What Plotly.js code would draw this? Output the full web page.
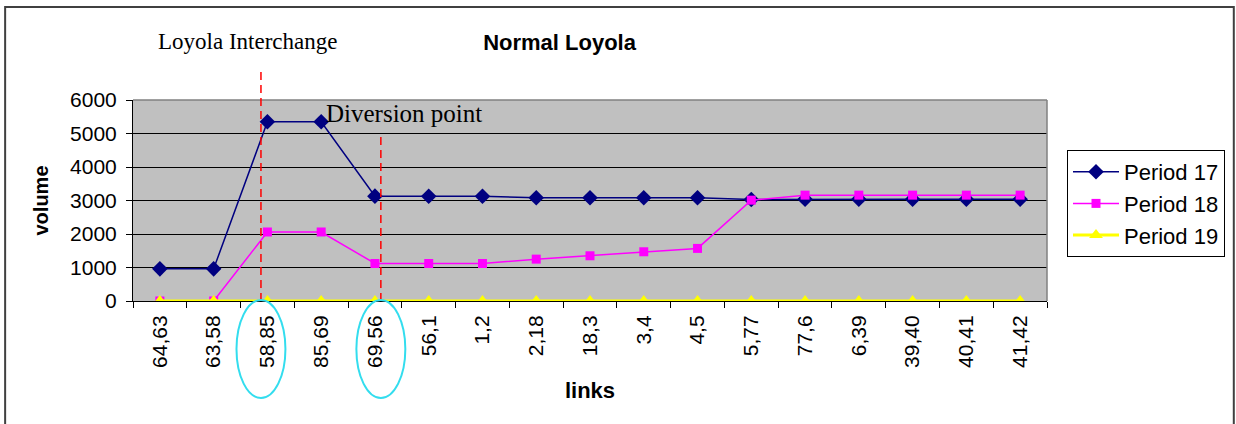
<!DOCTYPE html>
<html>
<head>
<meta charset="utf-8">
<script src="https://cdn.plot.ly/plotly-3.0.1.min.js"></script>
<style>
html,body{margin:0;padding:0;background:#fff;}
#chart{width:1236px;height:424px;}
</style>
</head>
<body>
<div id="chart"></div>
<script>
// ---- data ----
const links = ['64,63','63,58','58,85','85,69','69,56','56,1','1,2','2,18','18,3','3,4','4,5','5,77','77,6','6,39','39,40','40,41','41,42'];
const period17 = [960, 960, 5350, 5350, 3130, 3125, 3125, 3080, 3080, 3080, 3080, 3030, 3040, 3040, 3040, 3040, 3040];
const period18 = [0, 0, 2060, 2060, 1120, 1120, 1120, 1250, 1350, 1470, 1570, 3010, 3160, 3160, 3160, 3160, 3160];
const period19 = [0, 0, 0, 0, 0, 0, 0, 0, 0, 0, 0, 0, 0, 0, 0, 0, 0];
const seriesNames = ['Period 17', 'Period 18', 'Period 19'];

// ---- layout geometry (pixels) ----
const W = 1236, H = 424;
const M = {l: 133, r: 188, t: 100, b: 123};
const PW = W - M.l - M.r, PH = H - M.t - M.b;
const px2x = p => (p - M.l) / PW;
const px2y = p => (H - M.b - p) / PH;
const n = links.length;
// category index (fractional) -> paper x
const cat2x = i => (i + 0.5) / n;

const interchangeIdx = 1.88;  // dashed marker near 58,85
const diversionIdx = 4.11;    // dashed marker near 69,56

const AR = 'Arial, "Liberation Sans", sans-serif';
const TNR = '"Times New Roman", "Liberation Serif", serif';

const traces = [
  {x: links, y: period17, name: seriesNames[0], type: 'scatter', mode: 'lines+markers',
   line: {color: '#000080', width: 1.5}, marker: {symbol: 'diamond', size: 12, color: '#000080'}},
  {x: links, y: period18, name: seriesNames[1], type: 'scatter', mode: 'lines+markers',
   line: {color: '#FF00FF', width: 1.5}, marker: {symbol: 'square', size: 9, color: '#FF00FF'}},
  {x: links, y: period19, name: seriesNames[2], type: 'scatter', mode: 'lines+markers',
   line: {color: '#FFFF00', width: 3}, marker: {symbol: 'triangle-up', size: 12, color: '#FFFF00'}}
];

const ellW = 24.5 / PW;
const shapes = [
  // outer chart frame
  {type: 'rect', xref: 'paper', yref: 'paper', x0: px2x(5), x1: px2x(1235), y0: px2y(440), y1: px2y(7),
   line: {color: '#404040', width: 2}, fillcolor: 'rgba(0,0,0,0)'},
  // plot top and right borders (gray)
  {type: 'line', xref: 'paper', yref: 'paper', x0: 0, x1: 1, y0: 1, y1: 1, line: {color: '#808080', width: 1.5}},
  {type: 'line', xref: 'paper', yref: 'paper', x0: 1, x1: 1, y0: 0, y1: 1, line: {color: '#808080', width: 1.5}},
  // dashed red markers
  {type: 'line', xref: 'paper', yref: 'paper', x0: cat2x(interchangeIdx), x1: cat2x(interchangeIdx),
   y0: 0, y1: px2y(67), line: {color: '#FF0000', width: 1.5, dash: '8px,5px'}},
  {type: 'line', xref: 'paper', yref: 'paper', x0: cat2x(diversionIdx), x1: cat2x(diversionIdx),
   y0: 0, y1: px2y(133), line: {color: '#FF0000', width: 1.5, dash: '8px,5px'}},
  // cyan ellipses round highlighted labels
  {type: 'circle', xref: 'paper', yref: 'paper', x0: cat2x(interchangeIdx) - ellW, x1: cat2x(interchangeIdx) + ellW,
   y0: px2y(398), y1: px2y(300), line: {color: '#33DDEE', width: 2}},
  {type: 'circle', xref: 'paper', yref: 'paper', x0: cat2x(diversionIdx) - ellW, x1: cat2x(diversionIdx) + ellW,
   y0: px2y(398), y1: px2y(300), line: {color: '#33DDEE', width: 2}}
];

const annotations = [
  {text: 'Loyola Interchange', xref: 'paper', yref: 'paper', x: px2x(248), y: px2y(42),
   xanchor: 'center', yanchor: 'middle', showarrow: false, font: {family: TNR, size: 23, color: '#000'}},
  {text: 'Diversion point', xref: 'paper', yref: 'paper', x: px2x(404), y: px2y(113),
   xanchor: 'center', yanchor: 'middle', showarrow: false, font: {family: TNR, size: 25, color: '#000'}}
];

const layout = {
  width: W, height: H,
  margin: M,
  paper_bgcolor: '#FFFFFF',
  plot_bgcolor: '#C0C0C0',
  title: {text: '<b>Normal Loyola</b>', xref: 'paper', x: px2x(560), xanchor: 'center',
          yref: 'container', y: 1 - 42 / H, yanchor: 'middle', font: {family: AR, size: 22, color: '#000'}},
  showlegend: true,
  legend: {x: px2x(1067), xanchor: 'left', y: px2y(150), yanchor: 'top',
           bgcolor: '#FFFFFF', bordercolor: '#000000', borderwidth: 1,
           font: {family: AR, size: 22, color: '#000'}, itemwidth: 46},
  xaxis: {type: 'category', tickson: 'boundaries', ticks: 'outside', ticklen: 6, tickcolor: '#000',
          tickangle: -90, showline: true, linecolor: '#000', linewidth: 1, showgrid: false,
          tickfont: {family: AR, size: 21, color: '#000'}, ticklabelstandoff: 5,
          title: {text: '<b>links</b>', font: {family: AR, size: 22, color: '#000'}, standoff: 15},
          range: [-0.5, n - 0.5]},
  yaxis: {range: [0, 6000], dtick: 1000, tick0: 0, ticks: 'outside', ticklen: 6, tickcolor: '#000',
          showline: true, linecolor: '#000', linewidth: 1, showgrid: true, gridcolor: '#000', gridwidth: 1,
          zeroline: false, tickfont: {family: AR, size: 21, color: '#000'}, ticklabelstandoff: 5,
          title: {text: '<b>volume</b>', font: {family: AR, size: 20, color: '#000'}, standoff: 16}},
  shapes: shapes,
  annotations: annotations
};

Plotly.newPlot('chart', traces, layout, {displayModeBar: false, staticPlot: true});
</script>
</body>
</html>
